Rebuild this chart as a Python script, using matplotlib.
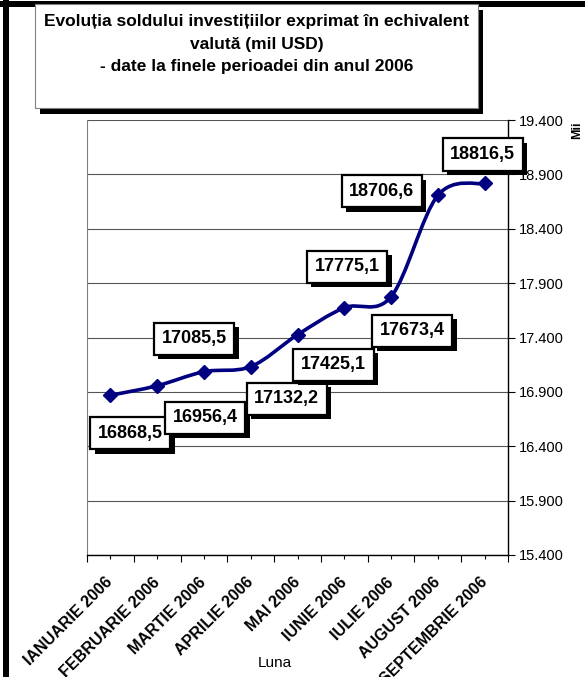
import numpy as np
import matplotlib
matplotlib.use('Agg')
from matplotlib import pyplot as plt
from matplotlib.path import Path
from matplotlib.patches import PathPatch, Rectangle
from matplotlib import patheffects as pe
from matplotlib.ticker import FuncFormatter, FixedLocator

plt.rcParams['font.family'] = ['Liberation Sans', 'DejaVu Sans']

luni = ['IANUARIE 2006', 'FEBRUARIE 2006', 'MARTIE 2006', 'APRILIE 2006', 'MAI 2006',
        'IUNIE 2006', 'IULIE 2006', 'AUGUST 2006', 'SEPTEMBRIE 2006']
sold = [16868.5, 16956.4, 17085.5, 17132.2, 17425.1, 17673.4, 17775.1, 18706.6, 18816.5]
y_ticks = [15400, 15900, 16400, 16900, 17400, 17900, 18400, 18900, 19400]
titlu = ('Evoluția soldului investițiilor exprimat în echivalent\n'
         'valută (mil USD)\n'
         '- date la finele perioadei din anul 2006')

# where each data label sits relative to its point (pixels, +y = down)
label_offsets = [(20, 38), (48, 32), (-10, -33), (36, 32), (36, 30),
                 (68, 23), (-44, -30), (-56, -4), (-2, -29)]

W, H = 585, 677
fig = plt.figure(figsize=(W / 100, H / 100), dpi=100)

def fx(px):
    return px / W

def fy(py):
    return 1 - py / H

# outer chart border (top and left visible)
fig.add_artist(Rectangle((fx(3), 0), 6 / W, 1, transform=fig.transFigure,
                         facecolor='black', edgecolor='none'))
fig.add_artist(Rectangle((0, fy(7)), 1, 6 / H, transform=fig.transFigure,
                         facecolor='black', edgecolor='none'))

# title box with shadow
fig.add_artist(Rectangle((fx(40), fy(114)), (478 - 35) / W, (114 - 10) / H,
                         transform=fig.transFigure, facecolor='black', edgecolor='none'))
fig.add_artist(Rectangle((fx(35), fy(108)), (478 - 35) / W, (108 - 4) / H,
                         transform=fig.transFigure, facecolor='white',
                         edgecolor='#808080', linewidth=0.8))
fig.text(fx(257), fy(44), titlu, ha='center', va='center', fontsize=12.5,
         fontweight='bold', linespacing=1.65)

ax = fig.add_axes([fx(87), fy(555), (508 - 87) / W, (555 - 120) / H])
x = np.arange(len(sold))
y = np.array(sold)

# smoothed line like Excel (Catmull-Rom as cubic bezier)
pts = np.column_stack([x, y])
ext = np.vstack([pts[0], pts, pts[-1]])
verts = [tuple(pts[0])]
codes = [Path.MOVETO]
for i in range(len(pts) - 1):
    p0, p1, p2, p3 = ext[i], ext[i + 1], ext[i + 2], ext[i + 3]
    c1 = p1 + (p2 - p0) / 6
    c2 = p2 - (p3 - p1) / 6
    verts += [tuple(c1), tuple(c2), tuple(p2)]
    codes += [Path.CURVE4] * 3
ax.add_patch(PathPatch(Path(verts, codes), facecolor='none', edgecolor='#000080',
                       linewidth=2.6, zorder=3))
ax.plot(x, y, linestyle='none', marker='D', markersize=7.5, color='#000080', zorder=4)

for xi, yi, (dx, dy) in zip(x, y, label_offsets):
    t = ax.annotate(f'{yi:.1f}'.replace('.', ','), (xi, yi), xytext=(dx, -dy),
                    textcoords='offset pixels', ha='center', va='center',
                    fontsize=13, fontweight='bold', zorder=6,
                    bbox=dict(boxstyle='square,pad=0.42', facecolor='white',
                              edgecolor='black', linewidth=1.6))
    t.get_bbox_patch().set_path_effects([
        pe.SimplePatchShadow(offset=(3.2, -3.2), shadow_rgbFace='black', alpha=1.0),
        pe.Normal()])

ax.set_xlim(-0.5, len(sold) - 0.5)
ax.set_ylim(15400, 19400)
ax.yaxis.set_major_locator(FixedLocator(y_ticks))
ax.yaxis.set_major_formatter(FuncFormatter(lambda v, p: f'{int(v):,}'.replace(',', '.')))
ax.yaxis.tick_right()
ax.tick_params(axis='y', direction='out', length=5, width=0.8, labelsize=10.5, pad=3)
ax.grid(axis='y', color='#555555', linewidth=0.8)
ax.set_axisbelow(True)

ax.set_xticks(x)
ax.set_xticklabels(luni, rotation=45, ha='right', va='center', rotation_mode='anchor',
                   fontsize=11.5, fontweight='bold')
ax.xaxis.set_minor_locator(FixedLocator(np.arange(-0.5, len(sold), 1.0)))
ax.tick_params(axis='x', which='major', direction='out', length=3, width=0.8, pad=15)
ax.tick_params(axis='x', which='minor', direction='out', length=5, width=0.8)
ax.set_xlabel('Luna', fontsize=11, labelpad=0)
ax.xaxis.set_label_coords((275 - 87) / (508 - 87), -(656 - 555) / (555 - 120))

ax.spines['top'].set_visible(False)
ax.spines['left'].set_color('#808080')
ax.spines['left'].set_linewidth(0.8)
ax.spines['right'].set_linewidth(1.0)
ax.spines['bottom'].set_linewidth(1.0)

fig.text(fx(577), fy(130), 'Mii', rotation=90, ha='center', va='center',
         fontsize=9, fontweight='bold')

fig.savefig('out.png', dpi=100)
plt.close(fig)
